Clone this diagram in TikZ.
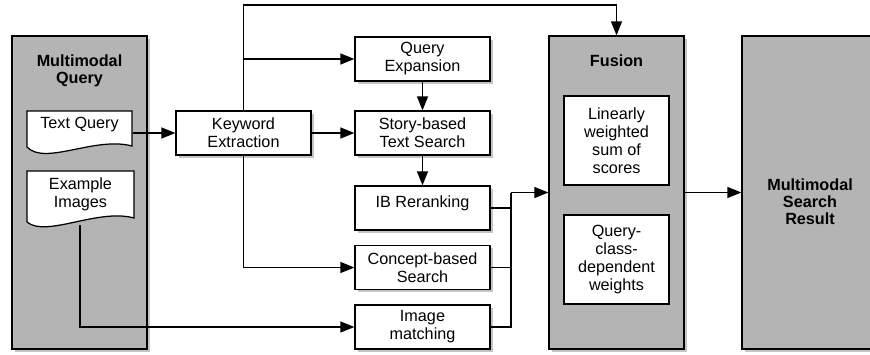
\documentclass[tikz,border=0pt]{standalone}
\usepackage{fontspec}
\setmainfont{Liberation Sans}
\usetikzlibrary{arrows.meta,shadows,calc}
\definecolor{panel}{RGB}{180,180,180}
\begin{document}
\begin{tikzpicture}[x=1pt,y=-1pt,
  font=\fontsize{16.2}{18}\selectfont,
  line width=1.25pt,
  shad/.style={drop shadow={shadow xshift=2.5pt,shadow yshift=-2.5pt,fill=black!45,opacity=.5}},
  box/.style={draw=black, fill=white, minimum width=135pt, minimum height=44pt, align=center, inner sep=2pt, shad},
  panelbox/.style={draw=black, fill=panel, minimum width=135pt, minimum height=313pt, inner sep=0pt, shad},
  inbox/.style={draw=black, fill=white, minimum width=105pt, minimum height=89pt, align=center, inner sep=2pt},
  doc/.style={draw=black, fill=white},
  plain/.style={align=center, inner sep=0pt},
  title/.style={align=center, inner sep=0pt, font=\fontsize{16.2}{17}\selectfont\bfseries},
  arr/.style={-{Triangle[length=14pt,width=11pt]}},
  conn/.style={line width=1.2pt}
]
\clip (0,0) rectangle (870,354);
\fill[white] (0,0) rectangle (870,354);

% left panel
\node[panelbox] (mq) at (79.5,192.5) {};
\node[title] (mqt) at (79.5,70.5) {Multimodal\\Query};
\filldraw[doc] (27,111) -- (132,111) -- (132,146) .. controls (95,136) and (45,166) .. (27,147) -- cycle;
\filldraw[doc] (27,171) -- (134,171) -- (134,218) .. controls (98,208) and (46,238) .. (27,222) -- cycle;
\node[plain, minimum width=105pt] (tq) at (79.5,125) {Text Query};
\node[plain] (ei) at (80.5,194) {Example\\Images};
\coordinate (eib) at (80,225);

% middle boxes
\node[box] (kw) at (243.5,133) {Keyword\\Extraction};
\node[box] (qe) at (422.5,59) {Query\\Expansion};
\node[box] (sb) at (422.5,133) {Story-based\\Text Search};
\node[box, text depth=13pt] (ib) at (422.5,208) {IB Reranking};
\node[box] (cs) at (422.5,267.5) {Concept-based\\Search};
\node[box] (im) at (422.5,327) {Image\\matching};

% fusion
\node[panelbox] (fu) at (616.5,192.5) {};
\node[title] (fut) at (616.5,61) {Fusion};
\node[inbox] (f1) at (616.5,140.5) {Linearly\\weighted\\sum of\\scores};
\node[inbox] (f2) at (616.5,259.5) {Query-\\class-\\dependent\\weights};

% result
\node[panelbox, minimum width=136pt] (res) at (810,192.5) {};
\node[title] (rest) at (810,202) {Multimodal\\Search\\Result};

% connectors
\coordinate (top) at (243.5,5);
\coordinate (mg) at (511,192.5);
\draw[arr] (tq.east |- kw.west) -- (kw.west);
\draw[arr] (kw.north) -- (top) -| (fu.north);
\draw[arr] (kw.north |- qe.west) -- (qe.west);
\draw[arr] (kw.east) -- (sb.west);
\draw[arr] (kw.south) |- (cs.west);
\draw[arr] (qe.south) -- (sb.north);
\draw[arr] (sb.south) -- (ib.north);
\draw[arr] (eib) |- (im.west);
\draw (ib.east) -| (mg);
\draw (cs.east) -- (cs.east -| mg);
\draw (im.east) -| (mg);
\draw[arr] (mg) -- (fu.west);
\draw[arr] (fu.east) -- (res.west);
\end{tikzpicture}
\end{document}
